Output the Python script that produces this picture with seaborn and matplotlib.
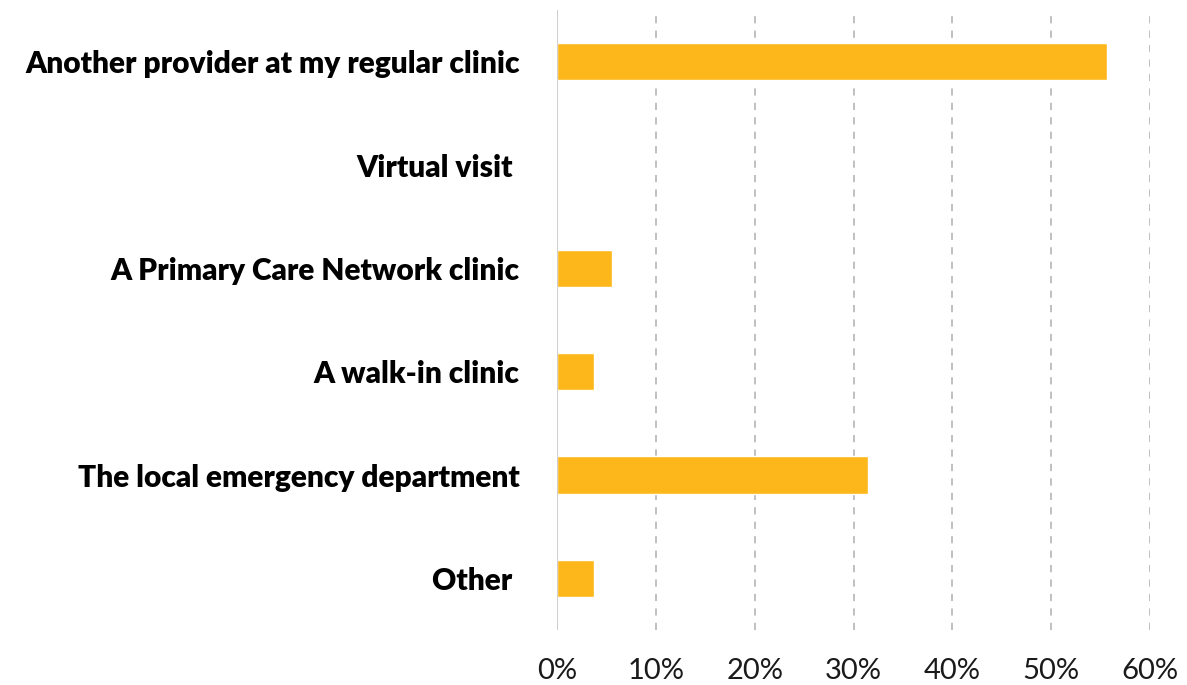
import matplotlib
matplotlib.use("Agg")
import matplotlib.pyplot as plt
import seaborn as sns
import pandas as pd

categories = [
    "Another provider at my regular clinic",
    "Virtual visit ",
    "A Primary Care Network clinic",
    "A walk-in clinic",
    "The local emergency department",
    "Other ",
]
shares = [55.6, 0.0, 5.6, 3.7, 31.5, 3.7]
xticks = [0, 10, 20, 30, 40, 50, 60]
xtick_labels = [f"{v}%" for v in xticks]

sns.set_theme(style="white")
plt.rcParams["font.family"] = ["Lato", "DejaVu Sans"]

df = pd.DataFrame({"category": categories, "share": shares})

fig = plt.figure(figsize=(11.87, 6.85), dpi=100)
ax = fig.add_axes([557 / 1187, 55 / 685, (1150 - 557) / 1187, 620 / 685])

sns.barplot(data=df, x="share", y="category", color="#FDB71A", width=0.36,
            saturation=1, ax=ax, order=categories)

ax.set_xlim(0, 60)
ax.set_ylim(5.5, -0.5)
ax.set_xticks(xticks)
ax.set_xticklabels(xtick_labels, fontsize=21, color="#1a1a1a", fontweight="normal")
ax.tick_params(axis="x", length=0, pad=20)
ax.tick_params(axis="y", length=0, pad=27)
for lbl in ax.get_yticklabels():
    lbl.set_fontsize(21.5)
    lbl.set_fontweight("heavy")
    lbl.set_color("black")
ax.set_xlabel("")
ax.set_ylabel("")

for v in xticks[1:]:
    ax.axvline(v, color="#bbbbbb", linestyle=(0, (4, 4)), linewidth=1.3, zorder=0)
ax.axvline(0, color="#d0d0d0", linewidth=1.5, zorder=3)

for s in ax.spines.values():
    s.set_visible(False)

fig.savefig("out.png", dpi=100)
